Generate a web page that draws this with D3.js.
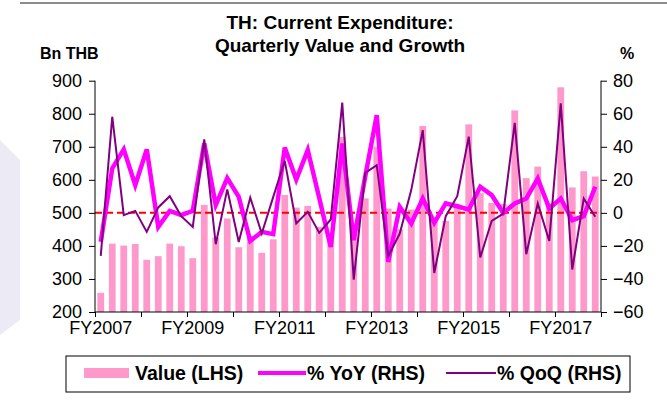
<!DOCTYPE html>
<html><head><meta charset="utf-8">
<script src="https://cdn.jsdelivr.net/npm/d3@7"></script>
<style>
html,body{margin:0;padding:0;background:#fff;}
svg{display:block;font-family:"Liberation Sans",Arial,sans-serif;}
</style></head>
<body>
<svg id="c" width="667" height="401"></svg>
<script>
// ---- data ----
const years = ["2007","2008","2009","2010","2011","2012","2013","2014","2015","2016","2017"];
const quarters = ["Q1","Q2","Q3","Q4"];
const categories = years.flatMap(y => quarters.map(q => "FY" + y + q));
const values = [258,407,401,406, 358,369,407,399, 363,524,425,483, 396,430,379,420,
                554,516,521,458, 440,730,435,544, 700,513,450,510, 763,484,476,525,
                768,560,530,527, 810,605,640,528, 880,577,626,610];
const yoy = [-17.6,26.9,38.4,16.8, 38.4,-8.5,1.2,-1.4, 1.2,42,4.7,21, 9.7,-17,-11.5,-12.9,
             39.6,20.2,38,9, -20.6,42,-16.5,22, 59.2,-29.7,3.6,-6.4, 8.7,-6,5.7,4,
             2,15.8,10.7,0, 5.7,8.7,20.8,2.7, 8.7,-4.4,-2,15.8];
const qoq = [-26,58.2,-1.4,1.2, -11.5,3.3,10.1,-2, -8.5,44.5,-19,14.2, -17.6,9.3,-12.5,9.7,
             31.5,-6.4,0.6,-12.1, -4,66.7,-40.4,24.2, 28.9,-26.2,-12.5,13.8, 50.1,-36.4,-2,10.1,
             46.1,-27,-4.8,-0.4, 54.5,-25,5.7,-17, 66.3,-34.3,8.7,-2.4];
const leftTicks = [200,300,400,500,600,700,800,900];
const rightTicks = [-60,-40,-20,0,20,40,60,80];
const xLabelCats = ["FY2007Q1","FY2009Q1","FY2011Q1","FY2013Q1","FY2015Q1","FY2017Q1"];
const titleLines = ["TH: Current Expenditure:", "Quarterly Value and Growth"];
const legendItems = ["Value (LHS)", "% YoY (RHS)", "% QoQ (RHS)"];

// ---- layout ----
const L = 95, R = 601, T = 80.7, B = 312;
const svg = d3.select("#c");

// decorative frame
svg.append("polygon").attr("points","0,140 20,160 20,320 0,335").attr("fill","#ecebf5");
svg.append("line").attr("x1",20).attr("x2",667).attr("y1",3).attr("y2",3).attr("stroke","#8c8c8c").attr("stroke-width",2);

const x = d3.scaleBand().domain(categories).range([L,R]).paddingInner(0.41).paddingOuter(0.205);
const yL = d3.scaleLinear().domain([200,900]).range([B,T]);
const yR = d3.scaleLinear().domain([-60,80]).range([B,T]);
const yearScale = d3.scaleLinear().domain([0, years.length]).range([L,R]);

// bars
svg.append("g").selectAll("rect").data(values).join("rect")
  .attr("x",(d,i)=>x(categories[i]))
  .attr("width",x.bandwidth())
  .attr("y",d=>yL(d))
  .attr("height",d=>yL(200)-yL(d))
  .attr("fill","#ff99cc");

// zero dashed line
svg.append("line").attr("x1",L).attr("x2",R).attr("y1",yR(0)).attr("y2",yR(0))
  .attr("stroke","#ff0000").attr("stroke-width",2).attr("stroke-dasharray","7,4");

const cx = i => x(categories[i]) + x.bandwidth()/2;
const line = d3.line().x((d,i)=>cx(i)).y(d=>yR(d));
svg.append("path").datum(yoy).attr("d",line).attr("fill","none")
  .attr("stroke","#ff00ff").attr("stroke-width",4.5).attr("stroke-linejoin","miter");
svg.append("path").datum(qoq).attr("d",line).attr("fill","none")
  .attr("stroke","#800080").attr("stroke-width",2);

// axes
const fs = "18px";
const gl = svg.append("g").attr("transform",`translate(${L},0)`)
  .call(d3.axisLeft(yL).tickValues(leftTicks).tickSize(6).tickPadding(7).tickFormat(d3.format("d")));
const gr = svg.append("g").attr("transform",`translate(${R},0)`)
  .call(d3.axisRight(yR).tickValues(rightTicks).tickSize(6).tickPadding(6).tickFormat(d3.format("d")));
const gb = svg.append("g").attr("transform",`translate(0,${B})`)
  .call(d3.axisBottom(yearScale).tickValues(d3.range(0, years.length+1)).tickSize(5).tickFormat(""));
const gbl = svg.append("g").attr("transform",`translate(0,${B})`)
  .call(d3.axisBottom(x).tickValues(xLabelCats).tickSize(0).tickPadding(9).tickFormat(d=>d.slice(0,6)));
gbl.select(".domain").remove();
[gl,gr,gb,gbl].forEach(g=>{
  g.selectAll(".domain").attr("stroke","#000").attr("stroke-width",1);
  g.selectAll(".tick line").attr("stroke","#000");
  g.selectAll("text").attr("font-size",fs).attr("fill","#000").attr("font-family","'Liberation Sans',Arial,sans-serif");
});
gb.select(".domain").attr("d",`M${L},0H${R}`);
gl.select(".domain").attr("d",`M0,${T}V${B}`);
gr.select(".domain").attr("d",`M0,${T}V${B}`);

// titles
svg.append("text").attr("x",340).attr("y",29).attr("text-anchor","middle")
  .attr("font-size","19px").attr("font-weight","bold").text(titleLines[0]);
svg.append("text").attr("x",340).attr("y",52).attr("text-anchor","middle")
  .attr("font-size","19px").attr("font-weight","bold").text(titleLines[1]);
svg.append("text").attr("x",40).attr("y",59).attr("font-size","16px").attr("font-weight","bold").text("Bn THB");
svg.append("text").attr("x",620).attr("y",59).attr("font-size","16px").attr("font-weight","bold").text("%");

// legend
const lg = svg.append("g");
lg.append("rect").attr("x",66).attr("y",356).attr("width",564).attr("height",36)
  .attr("fill","#fff").attr("stroke","#000").attr("stroke-width",1);
lg.append("rect").attr("x",84).attr("y",368).attr("width",45).attr("height",10).attr("fill","#ff99cc");
lg.append("line").attr("x1",258).attr("x2",306).attr("y1",373).attr("y2",373).attr("stroke","#ff00ff").attr("stroke-width",4);
lg.append("line").attr("x1",446).attr("x2",496).attr("y1",373).attr("y2",373).attr("stroke","#800080").attr("stroke-width",2);
const lx = [135, 307, 497];
legendItems.forEach((t,i)=>{
  lg.append("text").attr("x",lx[i]).attr("y",380).attr("font-size","19.5px").attr("font-weight","bold").text(t);
});
</script>
</body></html>
